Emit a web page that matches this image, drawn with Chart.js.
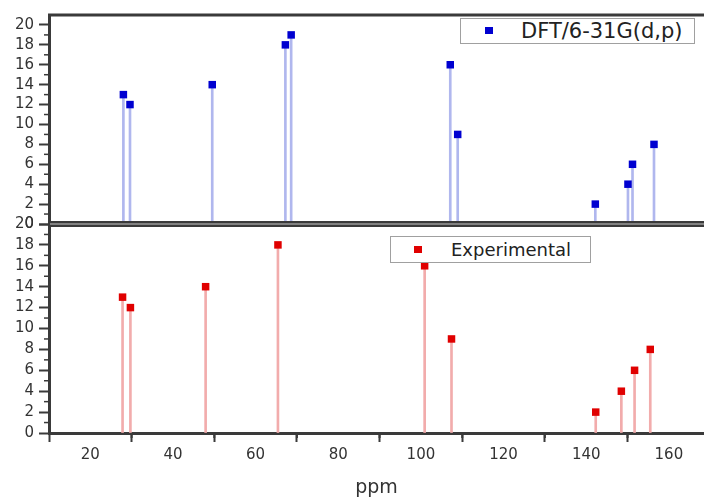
<!DOCTYPE html>
<html>
<head>
<meta charset="utf-8">
<title>DFT vs Experimental</title>
<script src="https://cdn.jsdelivr.net/npm/chart.js@4.4.1/dist/chart.umd.min.js"></script>
<style>
  html, body { margin: 0; padding: 0; background: #fff; }
  #wrap { position: relative; width: 704px; height: 499px; }
  .legend {
    position: absolute;
    box-sizing: border-box;
    border: 1px solid #a0a0a0;
    background: #fff;
    font-family: "DejaVu Sans", sans-serif;
    color: #222;
  }
  .legend .mark { position: absolute; width: 8px; height: 7px; }
  .legend .txt { position: absolute; white-space: nowrap; }
</style>
</head>
<body>
<div id="wrap">
  <canvas id="myChart" width="704" height="499"></canvas>
  <div class="legend" style="left:460px; top:18px; width:235px; height:26px;">
    <span class="mark" style="left:24px; top:8px; background:#0000d0;"></span>
    <span class="txt" style="left:60px; top:0px; font-size:21px; line-height:24px;">DFT/6-31G(d,p)</span>
  </div>
  <div class="legend" style="left:390px; top:236px; width:201px; height:27px;">
    <span class="mark" style="left:23px; top:9px; background:#e00000;"></span>
    <span class="txt" style="left:60px; top:1px; font-size:18px; line-height:24px;">Experimental</span>
  </div>
</div>
<script>
// chemical shifts (ppm) and heights
let dftPpm = [28.0, 29.6, 49.5, 67.2, 68.6, 107.1, 108.9, 142.2, 150.1, 151.2, 156.4];
let dftValues = [13, 12, 14, 18, 19, 16, 9, 2, 4, 6, 8];
let expPpm = [27.8, 29.7, 47.9, 65.4, 100.9, 107.4, 142.3, 148.5, 151.7, 155.5];
let expValues = [13, 12, 14, 18, 16, 9, 2, 4, 6, 8];
let xTickLabels = [20, 40, 60, 80, 100, 120, 140, 160];
let yTickLabels = [0, 2, 4, 6, 8, 10, 12, 14, 16, 18, 20];

let toPoints = (xs, ys) => xs.map((x, i) => ({ x: x, y: ys[i] }));

let axisColor = '#3a3a3a';
let labelFont = { family: 'DejaVu Sans', size: 15 };

// frame lines and short minor ticks
let framePlugin = {
  id: 'frame',
  afterDraw(chart) {
    let ctx = chart.ctx;
    let area = chart.chartArea;
    let x = chart.scales.x;
    let yTop = chart.scales.yTop;
    let yBottom = chart.scales.yBottom;
    ctx.save();
    ctx.strokeStyle = axisColor;
    // top border
    ctx.lineWidth = 3;
    ctx.beginPath();
    ctx.moveTo(area.left - 1, area.top);
    ctx.lineTo(area.right, area.top);
    ctx.stroke();
    // double line between panels
    let sep = yTop.bottom;
    ctx.lineWidth = 6;
    ctx.beginPath();
    ctx.moveTo(area.left - 1, sep);
    ctx.lineTo(area.right, sep);
    ctx.stroke();
    ctx.strokeStyle = '#9a9a9a';
    ctx.lineWidth = 1.5;
    ctx.beginPath();
    ctx.moveTo(area.left + 1, sep);
    ctx.lineTo(area.right, sep);
    ctx.stroke();
    // minor ticks
    ctx.strokeStyle = axisColor;
    ctx.lineWidth = 1.5;
    [yTop, yBottom].forEach(s => {
      for (let v = 1; v < 20; v += 2) {
        let py = s.getPixelForValue(v);
        ctx.beginPath();
        ctx.moveTo(area.left, py);
        ctx.lineTo(area.left - 5, py);
        ctx.stroke();
      }
    });
    ctx.lineWidth = 2;
    for (let v = 10; v <= x.max; v += 20) {
      if (v <= x.min) continue;
      let px = x.getPixelForValue(v);
      ctx.beginPath();
      ctx.moveTo(px, area.bottom);
      ctx.lineTo(px, area.bottom + 5);
      ctx.stroke();
    }
    ctx.restore();
  }
};

let yAxis = (max, weight) => ({
  type: 'linear',
  position: 'left',
  stack: 'panels',
  stackWeight: weight,
  min: 0,
  max: max,
  afterFit: s => { s.width = 49; },
  afterBuildTicks: s => { s.ticks = yTickLabels.map(v => ({ value: v })); },
  border: { display: true, color: axisColor, width: 3 },
  grid: { drawOnChartArea: false, drawTicks: true, tickLength: 10, tickWidth: 2, tickColor: axisColor },
  ticks: { color: '#333', font: labelFont, padding: 5, autoSkip: false }
});

let ctx = document.getElementById('myChart').getContext('2d');

let myChart = new Chart(ctx, {
  type: 'scatter',
  data: {
    datasets: [
      {
        type: 'bar', label: 'dft stems', data: toPoints(dftPpm, dftValues), order: 2,
        xAxisID: 'x', yAxisID: 'yTop', grouped: false, barThickness: 2,
        backgroundColor: '#b0b7ee', borderWidth: 0
      },
      {
        type: 'bar', label: 'exp stems', data: toPoints(expPpm, expValues), order: 2,
        xAxisID: 'x', yAxisID: 'yBottom', grouped: false, barThickness: 2,
        backgroundColor: '#f2acac', borderWidth: 0
      },
      {
        label: 'DFT/6-31G(d,p)', data: toPoints(dftPpm, dftValues), order: 1,
        xAxisID: 'x', yAxisID: 'yTop',
        pointStyle: 'rect', pointRadius: 5.3, pointHoverRadius: 5.3,
        backgroundColor: '#0000d0', borderColor: '#0000d0', borderWidth: 0
      },
      {
        label: 'Experimental', data: toPoints(expPpm, expValues), order: 1,
        xAxisID: 'x', yAxisID: 'yBottom',
        pointStyle: 'rect', pointRadius: 5.3, pointHoverRadius: 5.3,
        backgroundColor: '#e00000', borderColor: '#e00000', borderWidth: 0
      }
    ]
  },
  options: {
    responsive: false,
    animation: false,
    devicePixelRatio: 1,
    layout: { autoPadding: false, padding: { top: 15, left: 0, right: 0, bottom: 0 } },
    plugins: { legend: { display: false }, tooltip: { enabled: false } },
    scales: {
      x: {
        type: 'linear',
        position: 'bottom',
        min: 10,
        max: 168.5,
        offset: false,
        afterFit: s => { s.height = 66; },
        afterBuildTicks: s => { s.ticks = xTickLabels.map(v => ({ value: v })); },
        border: { display: true, color: axisColor, width: 3 },
        grid: { drawOnChartArea: false, drawTicks: true, tickLength: 9, tickWidth: 2, tickColor: axisColor },
        ticks: { color: '#333', font: labelFont, padding: 4, maxRotation: 0, autoSkip: false },
        title: { display: true, text: 'ppm', color: '#333', font: { family: 'DejaVu Sans', size: 19 }, padding: { top: 0, bottom: 0 } }
      },
      yBottom: yAxis(20, 1),
      yTop: yAxis(21, 1)
    }
  },
  plugins: [framePlugin]
});
</script>
</body>
</html>
